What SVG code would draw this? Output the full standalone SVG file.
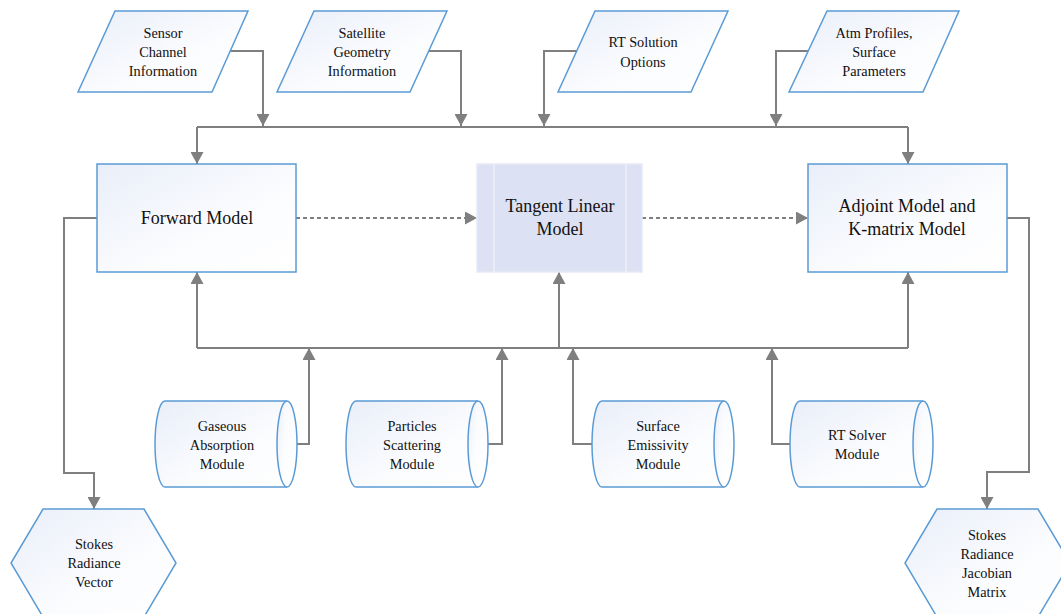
<svg xmlns="http://www.w3.org/2000/svg" width="1061" height="614" viewBox="0 0 1061 614">
<defs>
<linearGradient id="g" x1="0" y1="0" x2="1" y2="1">
<stop offset="0" stop-color="#e9eef9"/>
<stop offset="0.6" stop-color="#fbfcfe"/>
<stop offset="1" stop-color="#ffffff"/>
</linearGradient>
<marker id="ah" markerUnits="userSpaceOnUse" markerWidth="13" markerHeight="13" refX="12" refY="6.5" orient="auto">
<path d="M0,0 L12,6.5 L0,13 Z" fill="#7f7f7f"/>
</marker>
</defs>
<style>
.sh{fill:url(#g);stroke:#5b9bd5;stroke-width:1.5}
.t{font-size:14.3px;fill:#111;text-anchor:middle}
.tb{font-size:18px;fill:#111;text-anchor:middle}
.c{fill:none;stroke:#7f7f7f;stroke-width:2}
.d{fill:none;stroke:#7f7f7f;stroke-width:2;stroke-dasharray:4 3}
</style>
<rect width="1061" height="614" fill="#ffffff"/>
<g id="connectors">
<path class="c" d="M230,51 H263 V126" marker-end="url(#ah)"/>
<path class="c" d="M429,51 H461 V126" marker-end="url(#ah)"/>
<path class="c" d="M577,51 H544 V126" marker-end="url(#ah)"/>
<path class="c" d="M808,51 H776 V126" marker-end="url(#ah)"/>
<path class="c" d="M197,127 H908"/>
<path class="c" d="M197,127 V164" marker-end="url(#ah)"/>
<path class="c" d="M908,127 V164" marker-end="url(#ah)"/>
<path class="c" d="M197,348 H908"/>
<path class="c" d="M197,348 V272" marker-end="url(#ah)"/>
<path class="c" d="M559,348 V272" marker-end="url(#ah)"/>
<path class="c" d="M908,348 V272" marker-end="url(#ah)"/>
<path class="c" d="M287,444 H309 V348" marker-end="url(#ah)"/>
<path class="c" d="M478,444 H502 V348" marker-end="url(#ah)"/>
<path class="c" d="M592,444 H573 V348" marker-end="url(#ah)"/>
<path class="c" d="M791,444 H772 V348" marker-end="url(#ah)"/>
<path class="c" d="M97,218 H64 V473 H94 V509" marker-end="url(#ah)"/>
<path class="c" d="M1007,218 H1029 V472 H987 V509" marker-end="url(#ah)"/>
<path class="d" d="M296,218 H477" marker-end="url(#ah)"/>
<path class="d" d="M642,218 H808" marker-end="url(#ah)"/>
</g>
<g font-family="'Liberation Serif', 'Times New Roman', Tinos, 'DejaVu Serif', serif">
<g id="sensor">
<polygon class="sh" points="115,11 248,11 212,92 78,92"/>
<text class="t"><tspan x="163" y="38">Sensor</tspan><tspan x="163" y="57">Channel</tspan><tspan x="163" y="76">Information</tspan></text>
</g>
<g id="satellite">
<polygon class="sh" points="314,11 447,11 410,92 277,92"/>
<text class="t"><tspan x="362" y="38">Satellite</tspan><tspan x="362" y="57">Geometry</tspan><tspan x="362" y="76">Information</tspan></text>
</g>
<g id="rtoptions">
<polygon class="sh" points="595,11 728,11 691,92 558,92"/>
<text class="t"><tspan x="643" y="47">RT Solution</tspan><tspan x="643" y="67">Options</tspan></text>
</g>
<g id="atm">
<polygon class="sh" points="827,11 959,11 923,92 789,92"/>
<text class="t"><tspan x="874" y="38">Atm Profiles,</tspan><tspan x="874" y="57">Surface</tspan><tspan x="874" y="76">Parameters</tspan></text>
</g>
<g id="forward">
<rect class="sh" x="97" y="164" width="199" height="108"/>
<text class="tb" x="197" y="224">Forward Model</text>
</g>
<g id="tangent">
<rect x="477" y="164" width="165" height="108" fill="#dce1f3" stroke="#e6eaf6" stroke-width="1.5"/>
<line x1="494" y1="164" x2="494" y2="272" stroke="#eef1f9" stroke-width="1.5"/>
<line x1="626" y1="164" x2="626" y2="272" stroke="#eef1f9" stroke-width="1.5"/>
<text class="tb"><tspan x="560" y="212">Tangent Linear</tspan><tspan x="560" y="235">Model</tspan></text>
</g>
<g id="adjoint">
<rect class="sh" x="808" y="164" width="199" height="108"/>
<text class="tb"><tspan x="907" y="212">Adjoint Model and</tspan><tspan x="907" y="235">K-matrix Model</tspan></text>
</g>
<g id="gaseous">
<path class="sh" d="M165,401 H287 A10,43 0 0 1 287,487 H165 A10,43 0 0 1 165,401 Z"/>
<path class="sh" d="M287,401 A10,43 0 0 0 287,487"/>
<text class="t"><tspan x="222" y="431">Gaseous</tspan><tspan x="222" y="450">Absorption</tspan><tspan x="222" y="469">Module</tspan></text>
</g>
<g id="particles">
<path class="sh" d="M356,401 H478 A10,43 0 0 1 478,487 H356 A10,43 0 0 1 356,401 Z"/>
<path class="sh" d="M478,401 A10,43 0 0 0 478,487"/>
<text class="t"><tspan x="412" y="431">Particles</tspan><tspan x="412" y="450">Scattering</tspan><tspan x="412" y="469">Module</tspan></text>
</g>
<g id="surface">
<path class="sh" d="M602,401 H724 A10,43 0 0 1 724,487 H602 A10,43 0 0 1 602,401 Z"/>
<path class="sh" d="M724,401 A10,43 0 0 0 724,487"/>
<text class="t"><tspan x="658" y="431">Surface</tspan><tspan x="658" y="450">Emissivity</tspan><tspan x="658" y="469">Module</tspan></text>
</g>
<g id="rtsolver">
<path class="sh" d="M800,401 H923 A10,43 0 0 1 923,487 H800 A10,43 0 0 1 800,401 Z"/>
<path class="sh" d="M923,401 A10,43 0 0 0 923,487"/>
<text class="t"><tspan x="857" y="440">RT Solver</tspan><tspan x="857" y="459">Module</tspan></text>
</g>
<g id="stokesvector">
<polygon class="sh" points="43,509 144,509 176,563 144,617 43,617 11,563"/>
<text class="t"><tspan x="94" y="549">Stokes</tspan><tspan x="94" y="568">Radiance</tspan><tspan x="94" y="587">Vector</tspan></text>
</g>
<g id="stokesjacobian">
<polygon class="sh" points="937,509 1038,509 1070,563 1038,617 937,617 905,563"/>
<text class="t"><tspan x="987" y="540">Stokes</tspan><tspan x="987" y="559">Radiance</tspan><tspan x="987" y="578">Jacobian</tspan><tspan x="987" y="597">Matrix</tspan></text>
</g>
</g>
</svg>
